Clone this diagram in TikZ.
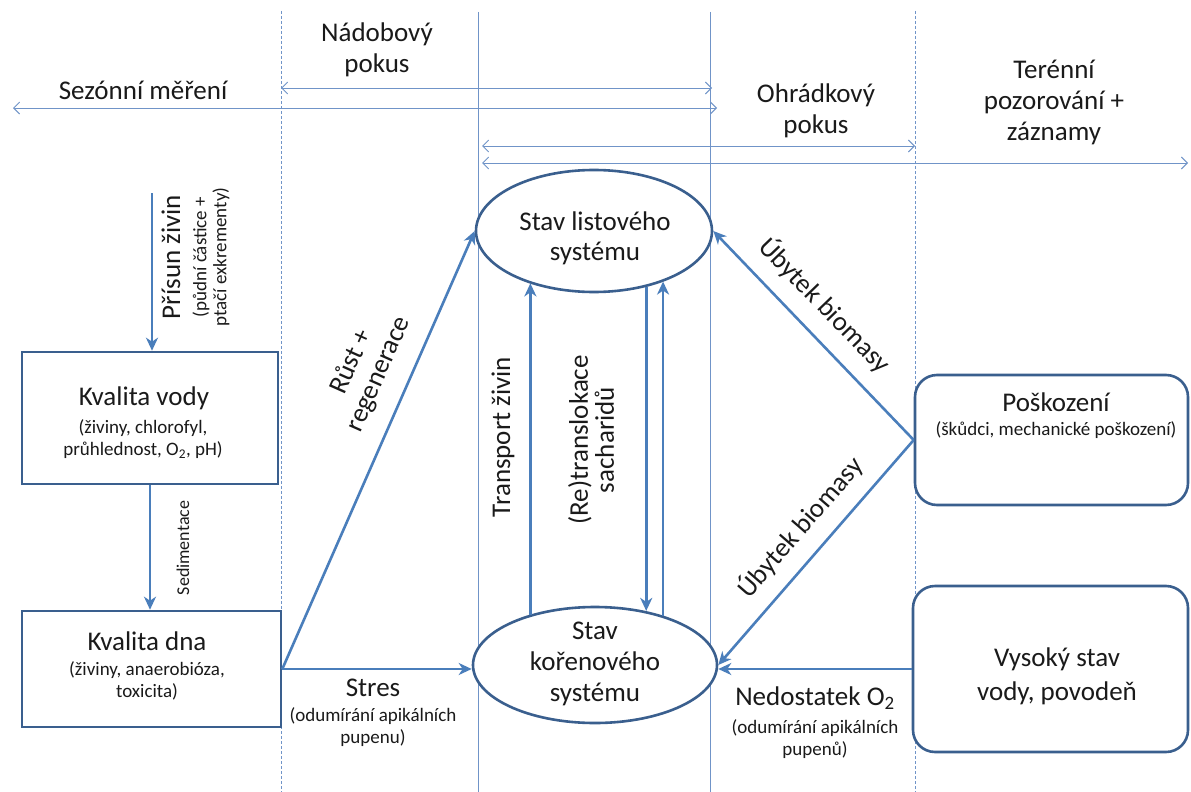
\documentclass[tikz,border=0pt]{standalone}
\usepackage{fontspec}
\setmainfont{Carlito}
\usetikzlibrary{arrows.meta,shapes.geometric}
\definecolor{flowc}{HTML}{4A7EBB}
\definecolor{edgec}{HTML}{3A5F8E}
\definecolor{thinc}{HTML}{7094C8}
\definecolor{txtc}{HTML}{1A1A1A}
\begin{document}
\begin{tikzpicture}[x=1pt,y=-1pt,
  every node/.style={text=txtc, inner sep=0pt},
  big/.style={font=\fontsize{27}{31}\selectfont},
  small/.style={font=\fontsize{19}{22}\selectfont},
  thinl/.style={draw=thinc, line width=0.9pt},
  dashl/.style={draw=thinc, line width=0.9pt, dash pattern=on 3pt off 2pt},
  spanarrow/.style={thinl, {Straight Barb[length=6pt,width=12pt]}-{Straight Barb[length=6pt,width=12pt]}},
  flow/.style={draw=flowc, line width=2.6pt, -{Stealth[length=13pt,width=12pt,inset=4pt]}},
  sqbox/.style={draw=edgec, line width=2.6pt, rectangle, fill=white},
  rbox/.style={draw=edgec, line width=2.6pt, rectangle, rounded corners=22pt, fill=white},
  ell/.style={draw=edgec, line width=2.6pt, ellipse, fill=white}
]
\useasboundingbox[fill=white] (0,0) rectangle (1191,792);

% scale lines
\draw[dashl] (281,11) -- (281,792);
\draw[thinl] (478,12) -- (478,792);
\draw[thinl] (710,12) -- (710,792);
\draw[dashl] (915,11) -- (915,792);

\draw[spanarrow] (281,88) -- (712,88);
\draw[spanarrow] (13,108) -- (717,108);
\draw[spanarrow] (482,146) -- (915,146);
\draw[spanarrow] (482,163) -- (1188,163);

\node[big, align=center] (nadT) at (377,50) {Nádobový\\pokus};
\node[big] (sezT) at (143,90) {Sezónní měření};
\node[big, align=center] (ohrT) at (816,111) {Ohrádkový\\pokus};
\node[big, align=center] (terT) at (1054,102) {Terénní\\pozorování +\\záznamy};

% nodes
\node[sqbox, minimum width=256pt, minimum height=132pt] (kv) at (150,418) {};
\node[sqbox, minimum width=259pt, minimum height=116pt] (kd) at (151.5,669) {};
\node[ell, minimum width=236pt, minimum height=122pt] (list) at (594,231) {};
\node[ell, minimum width=244pt, minimum height=116pt] (kor) at (595,665) {};
\node[rbox, minimum width=273pt, minimum height=130pt] (pos) at (1051.5,440) {};
\node[rbox, minimum width=275pt, minimum height=166pt] (vys) at (1050.5,669) {};

\node[big] (kvT) at (144,398) {Kvalita vody};
\node[small, align=center] (kvS) at (143,439) {(živiny, chlorofyl,\\průhlednost, O\textsubscript{2}, pH)};
\node[big] (kdT) at (147,641) {Kvalita dna};
\node[small, align=center] (kdS) at (147,681) {(živiny, anaerobióza,\\toxicita)};
\node[big, align=center, font=\fontsize{27}{30}\selectfont] (listT) at (595,238) {Stav listového\\systému};
\node[big, align=center] (korT) at (595,664) {Stav\\kořenového\\systému};
\node[big] (posT) at (1056,402) {Poškození};
\node[small] (posS) at (1056,430) {(škůdci, mechanické poškození)};
\node[big, align=center, font=\fontsize{27}{34}\selectfont] (vysT) at (1057,676) {Vysoký stav\\vody, povodeň};

% connectors
\coordinate (pin) at (152,193);
\draw[flow] (pin) -- (pin |- kv.north);
\draw[flow] (kv.south) -- (kv.south |- kd.north);
\draw[flow] (kd.east) -- (list.west);
\draw[flow] (kd.east) -- (kd.east -| kor.west);
\draw[flow] (kor.142) -- (kor.142 |- list.219);
\draw[flow] (list.313) -- (list.313 |- kor.47);
\draw[flow] (kor.36) -- (kor.36 |- list.324);
\draw[flow] (pos.west) -- (list.east);
\draw[flow] (pos.west) -- (kor.east);
\draw[flow] (vys.west) -- (vys.west -| kor.east);

% labels
\node[big, rotate=90] (prL) at (171,257) {Přísun živin};
\node[rotate=90, align=center, font=\fontsize{19}{20}\selectfont] (prS) at (211,257) {(půdní částice +\\ptačí exkrementy)};
\node[rotate=90, font=\fontsize{18}{20}\selectfont] (sedL) at (183,548) {Sedimentace};
\node[big, rotate=66, align=center, font=\fontsize{27}{30}\selectfont] (rgL) at (365,368) {Růst +\\regenerace};
\node[big] (stL) at (373,688) {Stres};
\node[small, align=center] (stS) at (373,727) {(odumírání apikálních\\pupenu)};
\node[big, rotate=90] (trL) at (503,437) {Transport živin};
\node[rotate=90, align=center, font=\fontsize{27}{26}\selectfont] (reL) at (591,440) {(Re)translokace\\sacharidů};
\node[big, rotate=-46] (ub1) at (825,305) {Úbytek biomasy};
\node[big, rotate=49] (ub2) at (800,527) {Úbytek biomasy};
\node[big] (ndL) at (815,698) {Nedostatek O\textsubscript{2}};
\node[small, align=center] (ndS) at (815,739) {(odumírání apikálních\\pupenů)};
\end{tikzpicture}
\end{document}
